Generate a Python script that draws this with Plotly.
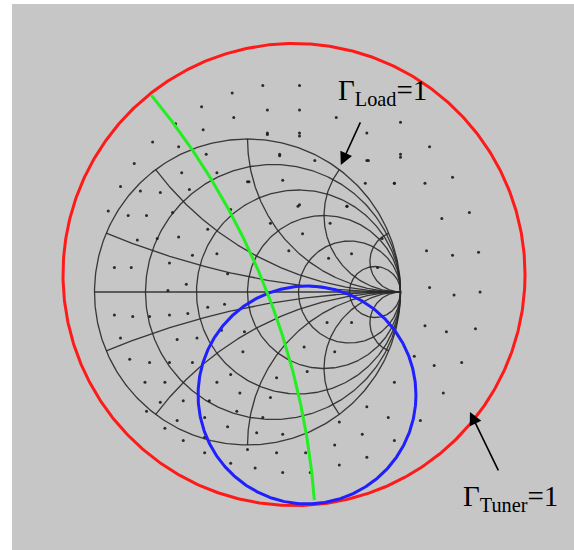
import numpy as np
import plotly.graph_objects as go

# ---- Smith chart grid (normalized impedance values) ----
resistance_values = [0.2, 0.5, 1, 2, 5]
reactance_values = [0.2, 0.5, 1, 2, 5]

# ---- Tuner boundary |Γ_Tuner| = 1 mapped into the load plane ----
tuner_center = (0.304, 0.114)
tuner_radius = 1.51

# ---- Blue circle ----
blue_center = (0.389, -0.673)
blue_radius = 0.712

# ---- Green arc (segment of a large circle) ----
green_center = (-4.25, -1.71)
green_radius = 4.70
green_start = (-0.624, 1.288)
green_end = (0.441, -1.36)

# ---- Measured tuner positions (Γ, load plane) ----
dot_re = [0.10, -0.10, -0.30, 0.13, -0.09, -0.47, -0.29, 0.13, -0.62, -0.45,
          -0.74, -0.43, -0.27, 0.00, 0.21, -0.83, -0.70, -0.57, -0.38, -0.91,
          -0.78, -0.66, -0.49, -0.45, -0.59, -0.72, -0.87, -0.76, -0.36, -0.11,
          0.34, 0.58, 0.78, 1.00, 1.19, 1.00, 0.96, 1.16, 1.34, 1.27,
          1.45, 1.17, 1.34, 1.51, 0.78, 0.34, 0.34, 0.34, 0.65,
          1.19, 1.35, 1.52, 1.16, 1.30, 1.49, 1.22, 1.40, 1.28, 1.13,
          0.96, 0.92, 0.78, 0.75, 0.78, 0.60, 0.57, 0.60, 0.41, 0.37,
          0.57, 0.68, 0.39, 0.96, 1.09,
          -0.87, -0.75, -0.64, -0.51, -0.39, -0.26, -0.83, -0.77, -0.64, -0.51,
          -0.67, -0.54, -0.57, -0.66, -0.42, -0.54, -0.46, -0.42, -0.28, -0.25,
          -0.20, -0.28, -0.13, -0.11, 0.00, 0.05, 0.19, 0.23, -0.07, -0.05,
          -0.02, -0.03, -0.11, -0.36, -0.46, -0.33, -0.40, -0.52,
          0.13, 0.34, 0.21, 0.44, 0.23, 0.01, 0.33, 0.65, 0.79, 0.77,
          0.96, 1.00, 0.15, 0.36, 0.54, 0.27, 0.53, 0.68, 0.88, 0.85,
          0.19, 0.15, 0.10, 0.06, 0.23, 0.38, 0.52, -0.15, -0.17, -0.28,
          -0.26, -0.51, -0.13, -0.20, -0.20]
dot_im = [1.35, 1.30, 1.21, 1.19, 1.14, 1.10, 1.06, 1.04, 0.98, 0.95,
          0.84, 0.78, 0.90, 0.72, 0.90, 0.69, 0.66, 0.65, 0.67, 0.53,
          0.50, 0.50, 0.52, 0.36, 0.35, 0.34, 0.16, 0.16, 0.24, 0.54,
          1.35, 1.14, 1.04, 1.11, 0.95, 0.90, 0.71, 0.71, 0.75, 0.48,
          0.52, 0.27, 0.24, 0.26, 0.86, 1.19, 1.04, 0.57, 0.56,
          0.03, -0.02, 0.00, -0.22, -0.26, -0.24, -0.48, -0.46, -0.66, -0.84,
          -0.97, -0.82, -0.75, -0.93, -1.08, -1.13, -1.00, -0.85, -1.18, -0.36,
          -0.39, -0.20, -0.52, -0.59, -0.42,
          -0.15, -0.16, -0.16, -0.15, -0.14, -0.10, -0.30, -0.44, -0.46, -0.46,
          -0.59, -0.59, -0.72, -0.78, -0.71, -0.89, -0.84, -0.97, -0.82, -0.71,
          -0.59, -1.05, -0.88, -1.12, -1.03, -1.15, -1.05, -1.18, -0.78, -0.66,
          -0.26, -0.39, -0.54, -0.46, -0.31, -0.30, 0.05, 0.01,
          1.03, 1.02, 0.89, 0.86, 0.73, 0.72, 0.56, 0.56, 0.86, 0.71,
          0.71, 0.88, 0.45, 0.38, 0.45, 0.27, 0.22, 0.25, 0.35, 0.16,
          -0.56, -0.69, -0.82, -0.92, -0.93, -1.05, -0.20, -0.08, -0.25, -0.95,
          0.41, 0.19, 0.12, 0.25, 0.78]

GRID = "rgba(40,40,40,0.9)"
fig = go.Figure()


def add_line(x, y, color=GRID, width=1.3):
    fig.add_trace(go.Scatter(x=x, y=y, mode="lines", hoverinfo="skip",
                             line=dict(color=color, width=width)))


def circle(cx, cy, rad, n=400):
    t = np.linspace(0, 2 * np.pi, n)
    return cx + rad * np.cos(t), cy + rad * np.sin(t)


# outer |Γ_Load| = 1 circle (r = 0)
add_line(*circle(0.0, 0.0, 1.0))
# constant-resistance circles
for r in resistance_values:
    add_line(*circle(r / (1 + r), 0.0, 1 / (1 + r)))
# constant-reactance arcs, Γ = (z - 1) / (z + 1) with z = r + jx, r: 0 → ∞
rr = np.tan(np.linspace(0, np.pi / 2 - 1e-4, 400))
for xv in reactance_values:
    for s in (1, -1):
        z = rr + 1j * s * xv
        g = (z - 1) / (z + 1)
        add_line(np.append(g.real, 1.0), np.append(g.imag, 0.0))
# real axis
add_line([-1.0, 1.0], [0.0, 0.0])

# tuner positions
fig.add_trace(go.Scatter(x=dot_re, y=dot_im, mode="markers", hoverinfo="skip",
                         marker=dict(size=3, color="rgba(25,25,25,0.9)")))

# |Γ_Tuner| = 1 circle
add_line(*circle(*tuner_center, tuner_radius, 600), color="#ff1a1a", width=3)

# blue circle
add_line(*circle(*blue_center, blue_radius, 500), color="#1f1fff", width=3)

# green arc
a0 = np.arctan2(green_start[1] - green_center[1], green_start[0] - green_center[0])
a1 = np.arctan2(green_end[1] - green_center[1], green_end[0] - green_center[0])
ta = np.linspace(a0, a1, 200)
add_line(green_center[0] + green_radius * np.cos(ta),
         green_center[1] + green_radius * np.sin(ta), color="#22ee22", width=3)

SERIF = "Liberation Serif"
annotations = [
    # Γ_Load = 1 label and arrow
    dict(x=0.61, y=0.83, ax=0.742, ay=1.118, axref="x", ayref="y",
         xref="x", yref="y", text="", showarrow=True, arrowhead=2,
         arrowsize=1.6, arrowwidth=1.6, arrowcolor="black"),
    dict(x=0.58, y=1.305, xref="x", yref="y", text="Γ<sub>Load</sub>=1",
         showarrow=False, xanchor="left", yanchor="middle",
         font=dict(family=SERIF, size=29, color="black")),
    # Γ_Tuner = 1 label and arrow
    dict(x=1.454, y=-0.784, ax=1.644, ay=-1.176, axref="x", ayref="y",
         xref="x", yref="y", text="", showarrow=True, arrowhead=2,
         arrowsize=1.6, arrowwidth=1.6, arrowcolor="black"),
    dict(x=1.395, y=-1.345, xref="x", yref="y", text="Γ<sub>Tuner</sub>=1",
         showarrow=False, xanchor="left", yanchor="middle",
         font=dict(family=SERIF, size=29, color="black")),
]

W, H = 574, 550
CX, CY, S = 247.5, 292.0, 153.0  # chart centre (px) and px per unit Γ
fig.update_layout(
    width=W, height=H,
    margin=dict(l=0, r=0, t=0, b=0),
    paper_bgcolor="white", plot_bgcolor="white",
    showlegend=False,
    xaxis=dict(range=[-CX / S, (W - CX) / S], visible=False, fixedrange=True),
    yaxis=dict(range=[(CY - H) / S, CY / S], visible=False, fixedrange=True),
    shapes=[dict(type="rect", xref="paper", yref="paper",
                 x0=12 / W, x1=1.0, y0=0.0, y1=1 - 4 / H,
                 fillcolor="#c6c6c6", line=dict(width=0), layer="below")],
    annotations=annotations,
)

fig.write_html("out.html")
